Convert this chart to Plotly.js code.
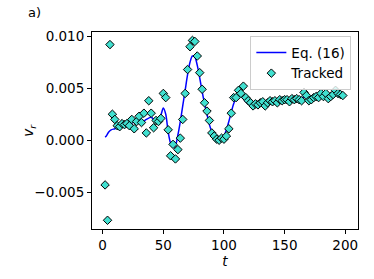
<!DOCTYPE html>
<html><head><meta charset="utf-8">
<script src="https://cdn.plot.ly/plotly-3.0.1.min.js"></script>
<style>html,body{margin:0;padding:0;background:#fff;}</style>
</head><body><div id="chart" style="width:374px;height:279px;"></div>
<script>
const trackedT = [2,4,6,8,10,12,14,16,18,20,22,24,26,28,30,32,34,36,38,40,42,44,46,48,50,52,54,56,58,60,62,64,66,68,70,72,74,76,78,80,82,84,86,88,90,92,94,96,98,100,102,104,106,108,110,112,114,116,118,120,122,124,126,128,130,132,134,136,138,140,142,144,146,148,150,152,154,156,158,160,162,164,166,168,170,172,174,176,178,180,182,184,186,188,190,192,194,196,198];
const trackedV = [-0.0043,-0.0077,0.0092,0.0025,0.0020,0.0014,0.0013,0.0016,0.0015,0.0016,0.0014,0.0020,0.0011,0.0018,0.0023,0.0017,0.0026,0.0007,0.0038,0.0026,0.0012,0.0019,0.0018,0.0021,0.0045,0.0041,0.0010,-0.0015,-0.0004,-0.0018,-0.0009,0.0002,0.0020,0.0045,0.0068,0.0090,0.0096,0.0095,0.0081,0.0065,0.0049,0.0036,0.0028,0.0019,0.0007,0.0004,0.0001,0.0000,0.0002,0.0001,0.0004,0.0011,0.0026,0.0041,0.0041,0.0048,0.0045,0.0052,0.0041,0.0038,0.0036,0.0033,0.0035,0.0034,0.0036,0.0037,0.0033,0.0036,0.0038,0.0037,0.0038,0.0036,0.0039,0.0038,0.0039,0.0039,0.0037,0.0040,0.0039,0.0040,0.0039,0.0038,0.0046,0.0043,0.0038,0.0039,0.0041,0.0042,0.0041,0.0045,0.0042,0.0045,0.0040,0.0042,0.0044,0.0048,0.0045,0.0044,0.0043];
const eqT = [2,3,5,7,10,15,20,25,30,33,36,40,43,46,48,50,52,54,56,58,60,62,64,66,68,70,72,74,76,78,80,82,84,86,88,90,92,94,96,98,100,102,104,106,108,110,112,114,116,118,120,122,124,126,130,135,140,145,150,155,160,165,170,175,180,185,190,198];
const eqV = [0.0003,0.0004,0.0008,0.0010,0.0011,0.0013,0.0015,0.0017,0.0019,0.0018,0.0020,0.0022,0.0019,0.0018,0.0024,0.0031,0.0025,0.0008,-0.0003,-0.0007,-0.0005,0.0005,0.0018,0.0033,0.0048,0.0063,0.0075,0.0081,0.0080,0.0072,0.0060,0.0047,0.0035,0.0025,0.0015,0.0008,0.0003,0.0001,0.0000,0.0001,0.0004,0.0010,0.0018,0.0027,0.0035,0.0041,0.0043,0.0042,0.0040,0.0037,0.0035,0.0034,0.0034,0.0035,0.0036,0.0037,0.0037,0.0038,0.0039,0.0039,0.0040,0.0041,0.0042,0.0042,0.0043,0.0043,0.0044,0.0044];
const xTicks = [0,50,100,150,200];
const yTicks = [-0.005,0,0.005,0.010];
const yTickText = ['\u22120.005','0.000','0.005','0.010'];

const font = {family:'DejaVu Sans', size:13, color:'#000'};
const tickFont = {family:'DejaVu Sans', size:13.5, color:'#000'};
const data = [
  {x:eqT, y:eqV, type:'scatter', mode:'lines', name:'Eq. (16)', line:{color:'#0000ff', width:1.5, shape:'spline', smoothing:0.8}},
  {x:trackedT, y:trackedV, type:'scatter', mode:'markers', name:'Tracked', marker:{symbol:'diamond', size:6.5, color:'#40E0D0', line:{color:'#000', width:1}}}
];
const axisCommon = {showgrid:false, zeroline:false, showline:true, mirror:true, linecolor:'#000', linewidth:1, ticks:'outside', ticklen:4, tickcolor:'#000', tickfont:tickFont};
const layout = {
  width:374, height:279,
  margin:{l:92, r:16, t:32, b:50},
  paper_bgcolor:'#fff', plot_bgcolor:'#fff',
  font:font,
  showlegend:true,
  legend:{x:0.975, y:0.978, xanchor:'right', yanchor:'top', bgcolor:'rgba(255,255,255,0.8)', bordercolor:'#ccc', borderwidth:1, font:{family:'DejaVu Sans', size:13.5, color:'#000'}, tracegroupgap:0},
  xaxis:Object.assign({}, axisCommon, {range:[-8.8,210.5], tickvals:xTicks, ticktext:xTicks.map(String), title:{text:'<i>t</i>', font:tickFont, standoff:0}}),
  yaxis:Object.assign({}, axisCommon, {range:[-0.00854,0.01041], tickvals:yTicks, ticktext:yTickText}),
  annotations:[
    {text:'a)', xref:'paper', yref:'paper', x:-0.25, y:1.10, xanchor:'left', yanchor:'middle', showarrow:false, font:font},
    {text:'<i>v<sub>r</sub></i>', xref:'paper', yref:'paper', x:-0.237, y:0.503, xanchor:'center', yanchor:'middle', textangle:-90, showarrow:false, font:tickFont}
  ]
};
Plotly.newPlot('chart', data, layout, {displayModeBar:false, staticPlot:true});
</script>
</body></html>
